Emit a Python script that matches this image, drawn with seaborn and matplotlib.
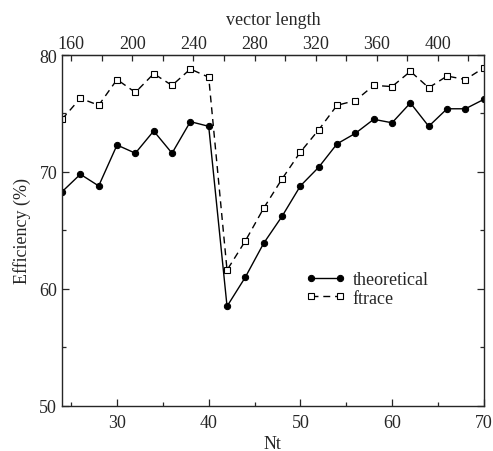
import numpy as np
import pandas as pd
import seaborn as sns
import matplotlib.pyplot as plt
from matplotlib.ticker import MultipleLocator, FixedLocator

# data
nt = [24, 26, 28, 30, 32, 34, 36, 38, 40, 42, 44, 46, 48,
      50, 52, 54, 56, 58, 60, 62, 64, 66, 68, 70]
theoretical = [68.3, 69.8, 68.8, 72.3, 71.6, 73.5, 71.6, 74.3, 73.9, 58.5, 61.0, 63.9, 66.2,
               68.8, 70.4, 72.4, 73.3, 74.5, 74.2, 75.9, 73.9, 75.4, 75.4, 76.2]
ftrace = [74.5, 76.3, 75.7, 77.9, 76.8, 78.4, 77.4, 78.8, 78.1, 61.6, 64.1, 66.9, 69.4,
          71.7, 73.6, 75.7, 76.1, 77.4, 77.3, 78.6, 77.2, 78.2, 77.9, 78.9]
top_ticks = [160, 200, 240, 280, 320, 360, 400]
top_minor = [180, 220, 260, 300, 340, 380, 420]

df = pd.DataFrame({"Nt": nt, "theoretical": theoretical, "ftrace": ftrace})

sns.set_style("ticks")
plt.rcParams['font.family'] = ['Liberation Serif', 'DejaVu Serif']

fig = plt.figure(figsize=(4.93, 4.52), dpi=100)
ax = fig.add_axes([0.1258, 0.1002, 0.8554, 0.7759])

sns.lineplot(data=df, x="Nt", y="theoretical", ax=ax, color="black", linewidth=1.0,
             marker="o", markersize=4.5, markerfacecolor="black", markeredgecolor="black",
             label="theoretical")
sns.lineplot(data=df, x="Nt", y="ftrace", ax=ax, color="black", linewidth=1.0,
             linestyle=(0, (5, 3.5)), marker="s", markersize=4.5,
             markerfacecolor="white", markeredgecolor="black", markeredgewidth=0.8,
             label="ftrace")

ax.set_xlim(24, 70)
ax.set_ylim(50, 80)
ax.xaxis.set_major_locator(MultipleLocator(10))
ax.xaxis.set_minor_locator(MultipleLocator(5))
ax.yaxis.set_major_locator(MultipleLocator(10))
ax.yaxis.set_minor_locator(MultipleLocator(5))
ax.tick_params(which="both", direction="in", right=True, labelsize=13, width=0.9)
ax.tick_params(which="major", length=5)
ax.tick_params(which="minor", length=3)
ax.tick_params(axis="x", pad=6)
for s in ax.spines.values():
    s.set_linewidth(1.0)
    s.set_visible(True)

ax.set_xlabel("Nt", fontsize=13, labelpad=3)
ax.set_ylabel("Efficiency (%)", fontsize=13, labelpad=6)

top = ax.secondary_xaxis("top", functions=(lambda n: 6 * n + 10, lambda v: (v - 10) / 6))
top.xaxis.set_major_locator(FixedLocator(top_ticks))
top.xaxis.set_minor_locator(FixedLocator(top_minor))
top.tick_params(which="both", direction="in", labelsize=13, width=0.9, pad=2)
top.tick_params(which="major", length=4)
top.tick_params(which="minor", length=4)
top.set_xlabel("vector length", fontsize=13, labelpad=8)

ax.legend(loc="upper left", bbox_to_anchor=(0.56, 0.405), frameon=False, fontsize=13,
          numpoints=2, handlelength=2.2, handletextpad=0.4, labelspacing=0.1,
          borderaxespad=0)

fig.savefig("out.png", dpi=100)
